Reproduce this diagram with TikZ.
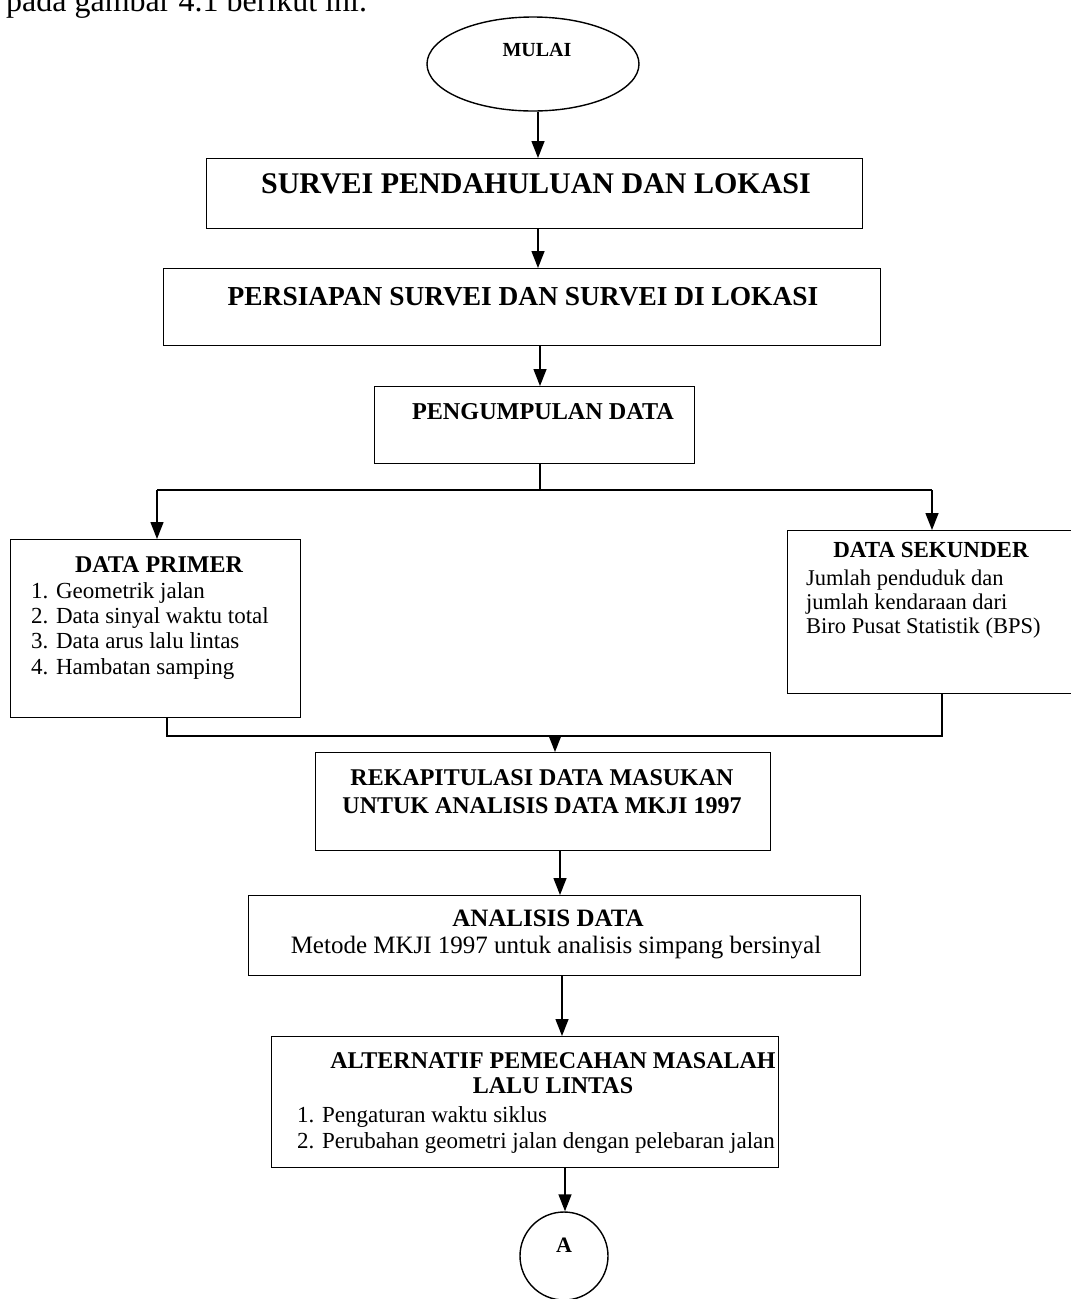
\documentclass[tikz,border=0pt]{standalone}
\usepackage{fontspec}
\setmainfont{Liberation Serif}
\usetikzlibrary{arrows.meta,shapes.geometric}
\newcommand\fsz[1]{\fontsize{#1}{#1}\selectfont}
\begin{document}
\begin{tikzpicture}[x=1pt,y=-1pt,
  box/.style={draw, line width=1.4pt, rectangle, inner sep=0pt, anchor=north west},
  con/.style={line width=1.4pt, -{Triangle[length=17pt,width=13pt]}},
  ln/.style={line width=1.4pt},
  hd/.style={inner sep=0pt, anchor=base, font=\bfseries},
  bd/.style={inner sep=0pt, anchor=base west}]
\useasboundingbox (0,0) rectangle (1071,1299);
% top running text (cut off by the page edge, as in the reference)
\node[bd, font=\fsz{32}] (top) at (6,11) {pada gambar 4.1 berikut ini.};
% start
\node[draw, line width=1.4pt, ellipse, minimum width=212pt, minimum height=94pt, inner sep=0pt] (start) at (533,64) {};
\node[hd, font=\fsz{20}\bfseries] (tstart) at (537,56) {MULAI};
% boxes
\node[box, minimum width=656pt, minimum height=70pt] (b1) at (206,158) {};
\node[hd, font=\fsz{30}\bfseries] (t1) at (536,193) {SURVEI PENDAHULUAN DAN LOKASI};
\node[box, minimum width=717pt, minimum height=77pt] (b2) at (163,268) {};
\node[hd, font=\fsz{27.4}\bfseries] (t2) at (523,305) {PERSIAPAN SURVEI DAN SURVEI DI LOKASI};
\node[box, minimum width=320pt, minimum height=77pt] (b3) at (374,386) {};
\node[hd, font=\fsz{24.2}\bfseries] (t3) at (543,419) {PENGUMPULAN DATA};
% data primer
\node[box, minimum width=290pt, minimum height=178pt] (b4) at (10,539) {};
\node[hd, font=\fsz{24}\bfseries] (t4) at (159,572) {DATA PRIMER};
\node[bd, font=\fsz{23}] (t4a) at (31,598) {1. Geometrik jalan};
\node[bd, font=\fsz{23}] (t4b) at (31,623) {2. Data sinyal waktu total};
\node[bd, font=\fsz{23}] (t4c) at (31,648) {3. Data arus lalu lintas};
\node[bd, font=\fsz{23}] (t4d) at (31,674) {4. Hambatan samping};
% data sekunder
\node[box, minimum width=293pt, minimum height=163pt] (b5) at (787,530) {};
\node[hd, font=\fsz{23}\bfseries] (t5) at (931,557) {DATA SEKUNDER};
\node[bd, font=\fsz{22.5}] (t5a) at (806,585) {Jumlah penduduk dan};
\node[bd, font=\fsz{22.5}] (t5b) at (806,609) {jumlah kendaraan dari};
\node[bd, font=\fsz{22.5}] (t5c) at (806,633) {Biro Pusat Statistik (BPS)};
% rekapitulasi
\node[box, minimum width=455pt, minimum height=98pt] (b6) at (315,752) {};
\node[hd, font=\fsz{24}\bfseries] (t6a) at (542,785) {REKAPITULASI DATA MASUKAN};
\node[hd, font=\fsz{24}\bfseries] (t6b) at (542,813) {UNTUK ANALISIS DATA MKJI 1997};
% analisis
\node[box, minimum width=612pt, minimum height=80pt] (b7) at (248,895) {};
\node[hd, font=\fsz{25}\bfseries] (t7a) at (548,926) {ANALISIS DATA};
\node[hd, font=\fsz{25}] (t7b) at (556,953) {Metode MKJI 1997 untuk analisis simpang bersinyal};
% alternatif
\node[box, minimum width=507pt, minimum height=131pt] (b8) at (271,1036) {};
\node[hd, font=\fsz{24}\bfseries] (t8a) at (553,1068) {ALTERNATIF PEMECAHAN MASALAH};
\node[hd, font=\fsz{24}\bfseries] (t8b) at (553,1093) {LALU LINTAS};
\node[bd, font=\fsz{23}] (t8c) at (297,1122) {1. Pengaturan waktu siklus};
\node[bd, font=\fsz{23}] (t8d) at (297,1148) {2. Perubahan geometri jalan dengan pelebaran jalan};
% connector A
\node[draw, line width=1.4pt, circle, minimum size=88pt, inner sep=0pt] (A) at (564,1256) {};
\node[hd, font=\fsz{22}\bfseries] (tA) at (564,1252) {A};
% column coordinates
\coordinate (x1) at (538,0);
\coordinate (x2) at (540,0);
\coordinate (xl) at (157,0);
\coordinate (xr) at (932,0);
\coordinate (xjl) at (167,0);
\coordinate (xjr) at (942,0);
\coordinate (x6) at (555,0);
\coordinate (x7) at (560,0);
\coordinate (x8) at (562,0);
\coordinate (x9) at (565,0);
\coordinate (ysplit) at (0,490);
\coordinate (yjoin) at (0,736);
% connectors
\draw[con] (start.south -| x1) -- (b1.north -| x1);
\draw[con] (b1.south -| x1) -- (b2.north -| x1);
\draw[con] (b2.south -| x2) -- (b3.north -| x2);
\draw[ln] (b3.south -| x2) -- (ysplit -| x2);
\draw[ln] (ysplit -| xl) -- (ysplit -| xr);
\draw[con] (ysplit -| xl) -- (b4.north -| xl);
\draw[con] (ysplit -| xr) -- (b5.north -| xr);
\draw[ln] (b4.south -| xjl) -- (yjoin -| xjl) -- (yjoin -| xjr) -- (b5.south -| xjr);
\draw[con] (yjoin -| x6) -- (b6.north -| x6);
\draw[con] (b6.south -| x7) -- (b7.north -| x7);
\draw[con] (b7.south -| x8) -- (b8.north -| x8);
\draw[con] (b8.south -| x9) -- (A.north -| x9);
\end{tikzpicture}
\end{document}
